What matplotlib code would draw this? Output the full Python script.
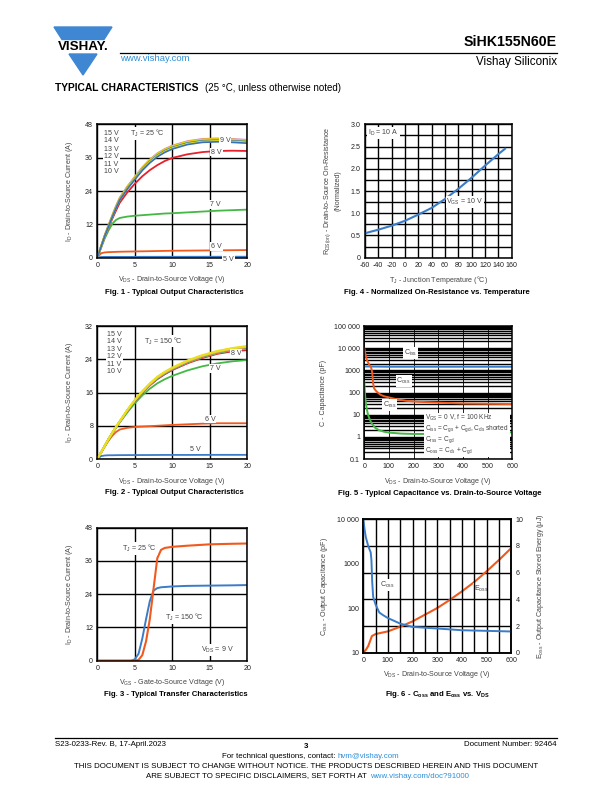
import numpy as np
import matplotlib
matplotlib.use("Agg")
import matplotlib.pyplot as plt
from matplotlib.patches import Polygon
from matplotlib.ticker import FixedLocator, NullFormatter

plt.rcParams["font.family"] = ["Liberation Sans", "DejaVu Sans"]
plt.rcParams["mathtext.fontset"] = "custom"
plt.rcParams["mathtext.rm"] = "Liberation Sans"
plt.rcParams["mathtext.it"] = "Liberation Sans"
plt.rcParams["mathtext.default"] = "regular"
plt.rcParams["axes.unicode_minus"] = False

# ---------- data ----------
# Fig. 1 - output characteristics, TJ = 25 C
vds_out = [0, 0.5, 1, 1.5, 2, 2.5, 3, 4, 5, 6, 7, 8, 9, 10, 12, 14, 16, 18, 20]
f1_15v = [0, 4.1, 8.1, 11.7, 15.2, 18.6, 21.6, 25.6, 29.1, 32.5, 35.3, 37.5, 39.1, 40.3, 41.9, 42.7, 42.9, 42.7, 42.4]
f1_14v = [0, 4.0, 8.0, 11.6, 15.1, 18.4, 21.4, 25.4, 28.9, 32.3, 35.1, 37.3, 38.9, 40.1, 41.7, 42.5, 42.7, 42.5, 42.2]
f1_13v = [0, 4.0, 8.0, 11.5, 15.0, 18.3, 21.3, 25.3, 28.8, 32.2, 35.0, 37.2, 38.8, 40.0, 41.6, 42.4, 42.6, 42.4, 42.1]
f1_12v = [0, 4.0, 7.9, 11.4, 14.9, 18.2, 21.2, 25.2, 28.6, 32.0, 34.8, 37.0, 38.6, 39.8, 41.4, 42.2, 42.4, 42.2, 41.9]
f1_11v = [0, 3.9, 7.9, 11.3, 14.8, 18.1, 21.0, 25.0, 28.4, 31.8, 34.6, 36.8, 38.4, 39.6, 41.2, 42.0, 42.2, 42.0, 41.7]
f1_10v = [0, 3.9, 7.8, 11.2, 14.7, 18.0, 20.9, 24.9, 28.3, 31.6, 34.4, 36.6, 38.2, 39.4, 41.0, 41.8, 42.0, 41.8, 41.5]
f1_9v = [0, 3.9, 7.8, 11.2, 14.6, 17.8, 20.8, 24.7, 28.1, 31.4, 34.1, 36.3, 37.9, 39.1, 40.7, 41.5, 41.7, 41.5, 41.2]
f1_8v = [0, 3.8, 7.5, 10.8, 14.0, 17.0, 19.8, 23.5, 26.6, 29.3, 31.5, 33.3, 34.8, 35.9, 37.2, 38.0, 38.4, 38.5, 38.4]
f1_7v = [0, 3.5, 7.0, 9.8, 12.2, 13.6, 14.3, 14.8, 15.1, 15.3, 15.5, 15.7, 15.9, 16.0, 16.3, 16.6, 16.9, 17.1, 17.3]
f1_6v = [0, 1.6, 1.9, 2.0, 2.05, 2.1, 2.15, 2.2, 2.25, 2.3, 2.35, 2.4, 2.45, 2.5, 2.55, 2.6, 2.65, 2.7, 2.75]
f1_5v = [0, 0.25, 0.3, 0.3, 0.3, 0.3, 0.3, 0.3, 0.3, 0.32, 0.32, 0.32, 0.33, 0.33, 0.33, 0.34, 0.34, 0.35, 0.35]

# Fig. 2 - output characteristics, TJ = 150 C
f2_15v = [0, 1.6, 3.2, 4.8, 6.3, 7.8, 9.1, 11.8, 14.2, 16.3, 18.2, 19.8, 21.0, 22.0, 23.7, 25.0, 26.0, 26.7, 27.2]
f2_14v = [0, 1.6, 3.2, 4.8, 6.3, 7.8, 9.1, 11.8, 14.2, 16.3, 18.1, 19.7, 20.9, 21.9, 23.6, 24.9, 25.9, 26.6, 27.1]
f2_13v = [0, 1.6, 3.2, 4.8, 6.3, 7.8, 9.1, 11.7, 14.1, 16.2, 18.0, 19.6, 20.8, 21.8, 23.5, 24.8, 25.8, 26.5, 27.0]
f2_12v = [0, 1.6, 3.2, 4.8, 6.3, 7.7, 9.0, 11.7, 14.1, 16.2, 18.0, 19.5, 20.7, 21.7, 23.4, 24.7, 25.7, 26.4, 26.9]
f2_11v = [0, 1.6, 3.2, 4.8, 6.3, 7.7, 9.0, 11.7, 14.0, 16.1, 17.9, 19.4, 20.6, 21.6, 23.3, 24.6, 25.6, 26.3, 26.8]
f2_10v = [0, 1.6, 3.2, 4.8, 6.3, 7.7, 9.0, 11.6, 14.0, 16.0, 17.8, 19.4, 20.6, 21.6, 23.2, 24.5, 25.5, 26.2, 26.6]
f2_9v = [0, 1.6, 3.2, 4.8, 6.3, 7.7, 9.0, 11.6, 14.0, 16.0, 17.8, 19.3, 20.5, 21.5, 23.2, 24.5, 25.5, 26.1, 26.5]
f2_8v = [0, 1.6, 3.2, 4.8, 6.3, 7.7, 9.0, 11.6, 13.9, 15.9, 17.7, 19.2, 20.4, 21.4, 23.0, 24.3, 25.3, 25.9, 26.2]
f2_7v = [0, 1.55, 3.1, 4.6, 6.1, 7.5, 8.8, 11.2, 13.4, 15.3, 16.9, 18.2, 19.2, 20.0, 21.3, 22.3, 23.0, 23.5, 23.8]
f2_6v = [0, 1.5, 3.0, 4.4, 5.6, 6.5, 7.1, 7.5, 7.7, 7.8, 7.9, 8.0, 8.1, 8.2, 8.35, 8.5, 8.6, 8.6, 8.6]
f2_5v = [0, 0.7, 0.85, 0.9, 0.9, 0.92, 0.93, 0.94, 0.95, 0.95, 0.96, 0.97, 0.98, 0.98, 0.98, 0.99, 1.0, 1.0, 1.0]

# Fig. 3 - transfer characteristics, VDS = 9 V
vgs = [0, 1, 2, 3, 4, 4.5, 5, 5.5, 6, 6.5, 7, 7.5, 8, 8.5, 9, 10, 12, 15, 18, 20]
id_25c = [0, 0, 0, 0, 0, 0, 0, 0.3, 2.0, 7.0, 15.0, 26.0, 37.0, 40.0, 40.7, 41.1, 41.5, 42.0, 42.2, 42.3]
id_150c = [0, 0, 0, 0, 0, 0, 0.5, 2.5, 8.0, 15.0, 21.5, 25.3, 26.2, 26.5, 26.6, 26.8, 27.0, 27.1, 27.2, 27.3]

# Fig. 4 - normalized RDS(on) vs. TJ
tj = [-60, -40, -20, 0, 20, 40, 60, 80, 100, 120, 140, 150]
rds_norm = [0.55, 0.63, 0.72, 0.83, 0.97, 1.12, 1.32, 1.55, 1.80, 2.07, 2.33, 2.45]

# Fig. 5 - capacitance vs. VDS
v_ciss = [0, 100, 300, 600]
ciss = [1500, 1450, 1450, 1450]
v_coss = [0, 5, 10, 20, 28, 32, 36, 40, 50, 65, 80, 100, 130, 170, 220, 300, 400, 500, 600]
coss = [10000, 5000, 3000, 1800, 1300, 800, 250, 150, 110, 80, 68, 60, 50, 42, 38, 35, 32, 31, 30]
v_crss = [0, 3, 6, 10, 15, 20, 30, 45, 60, 80, 100, 150, 200, 300, 400, 500, 600]
crss = [300, 80, 35, 18, 10, 7, 4, 2.5, 2.0, 1.7, 1.55, 1.4, 1.35, 1.35, 1.4, 1.5, 1.6]

# Fig. 6 - Coss and Eoss vs. VDS
v_coss6 = [0, 5, 10, 20, 30, 33, 36, 40, 50, 65, 80, 100, 150, 200, 300, 400, 500, 600]
coss6 = [10000, 6000, 4000, 2500, 1800, 1200, 400, 180, 120, 80, 70, 60, 45, 38, 35, 32, 31, 30]
v_eoss = [0, 10, 20, 30, 35, 50, 100, 150, 200, 250, 300, 350, 400, 450, 500, 550, 600]
eoss = [0, 0.2, 0.5, 1.0, 1.25, 1.4, 1.6, 1.95, 2.35, 2.85, 3.35, 3.95, 4.6, 5.3, 6.1, 6.95, 7.85]

W, H = 612, 792
BLUE = "#3a7cc8"
ORANGE = "#f05a1e"
GREEN = "#44b844"
RED = "#e8202a"
GRAY = "#444444"
LINK = "#2f8fd8"
TICK_FS = 5.1
LAB_FS = 5.1
CAP_FS = 5.6
FOOT_FS = 5.7
BOX = dict(facecolor="white", edgecolor="none", pad=0.6)


def px_axes(fig, x0, y0, x1, y1):
    """按像素位置建坐标轴 (左, 上, 右, 下)"""
    return fig.add_axes([x0 / W, 1 - y1 / H, (x1 - x0) / W, (y1 - y0) / H])


def style_axes(ax):
    for s in ax.spines.values():
        s.set_linewidth(1.1)
        s.set_color("black")
    ax.tick_params(length=0, labelsize=TICK_FS, pad=3, colors="#222222")
    ax.set_axisbelow(True)


def linear_grid(ax, xt, yt):
    ax.set_xticks(xt)
    ax.set_yticks(yt)
    ax.grid(True, color="black", linewidth=1.0)


def ftext(fig, x, y, s, **kw):
    fig.text(x / W, 1 - y / H, s, **kw)


def fline(fig, x0, x1, y):
    fig.add_artist(plt.Line2D([x0 / W, x1 / W], [1 - y / H, 1 - y / H], color="black", linewidth=0.9,
                              transform=fig.transFigure))


fig = plt.figure(figsize=(W / 100, H / 100), dpi=100)

# ---------- header ----------
logo_top = Polygon([[54 / W, 1 - 27 / H], [112 / W, 1 - 27 / H], [104 / W, 1 - 39.5 / H], [62 / W, 1 - 39.5 / H]],
                   closed=True, transform=fig.transFigure, color="#3f87d2")
logo_bot = Polygon([[69 / W, 1 - 54 / H], [97 / W, 1 - 54 / H], [83 / W, 1 - 75 / H]],
                   closed=True, transform=fig.transFigure, color="#3f87d2")
fig.patches.extend([logo_top, logo_bot])
ftext(fig, 83, 47.2, "VISHAY.", fontsize=9.6, fontweight="bold", ha="center", va="center")
fline(fig, 120, 557, 52.5)
ftext(fig, 120, 58.5, "www.vishay.com", fontsize=6.8, color=LINK, va="center")
ftext(fig, 557, 42, "SiHK155N60E", fontsize=10.2, fontweight="bold", ha="right", va="center")
ftext(fig, 557, 62, "Vishay Siliconix", fontsize=8.4, ha="right", va="center")
ftext(fig, 55, 88, "TYPICAL CHARACTERISTICS", fontsize=7.4, fontweight="bold", va="center")
ftext(fig, 205, 88, "(25 °C, unless otherwise noted)", fontsize=7.0, va="center")

# ---------- Fig. 1 ----------
ax1 = px_axes(fig, 97.3, 124.3, 247.3, 257.7)
style_axes(ax1)
linear_grid(ax1, [0, 5, 10, 15, 20], [0, 12, 24, 36, 48])
ax1.set_xlim(0, 20)
ax1.set_ylim(0, 48)
ax1.plot(vds_out, f1_5v, color=BLUE, lw=1.3)
ax1.plot(vds_out, f1_6v, color=ORANGE, lw=1.3)
ax1.plot(vds_out, f1_7v, color=GREEN, lw=1.3)
ax1.plot(vds_out, f1_8v, color=RED, lw=1.3)
ax1.plot(vds_out, f1_15v, color="#d88ac8", lw=1.4)
ax1.plot(vds_out, f1_14v, color="#f0b400", lw=1.4)
ax1.plot(vds_out, f1_13v, color="#e8dc10", lw=1.4)
ax1.plot(vds_out, f1_12v, color="#a8d038", lw=1.3)
ax1.plot(vds_out, f1_11v, color="#3070c0", lw=1.3)
ax1.plot(vds_out, f1_10v, color="#e8e020", lw=1.3)
ax1.plot(vds_out, f1_9v, color="#3a70b8", lw=1.2)
for lab, yv in zip(["15 V", "14 V", "13 V", "12 V", "11 V", "10 V"], [44.8, 42.0, 39.1, 36.3, 33.6, 31.0]):
    ax1.text(0.9, yv, lab, fontsize=LAB_FS, color=GRAY, va="center", bbox=BOX)
ax1.text(4.3, 44.6, "T$_J$ = 25 °C", fontsize=LAB_FS, color=GRAY, va="center", bbox=BOX)
ax1.text(16.3, 42.2, "9 V", fontsize=LAB_FS, color=GRAY, va="center", bbox=BOX)
ax1.text(15.2, 38.0, "8 V", fontsize=LAB_FS, color=GRAY, va="center", bbox=BOX)
ax1.text(15.0, 19.2, "7 V", fontsize=LAB_FS, color=GRAY, va="center", bbox=BOX)
ax1.text(15.2, 4.0, "6 V", fontsize=LAB_FS, color=GRAY, va="center", bbox=BOX)
ax1.text(16.8, -0.6, "5 V", fontsize=LAB_FS, color=GRAY, va="center", bbox=BOX)
ax1.set_xlabel("V$_{DS}$ - Drain-to-Source Voltage (V)", fontsize=LAB_FS, color=GRAY, labelpad=4)
ax1.set_ylabel("I$_D$ - Drain-to-Source Current (A)", fontsize=LAB_FS, color=GRAY, labelpad=7)
ftext(fig, 174, 292, "Fig. 1 - Typical Output Characteristics", fontsize=CAP_FS, fontweight="bold",
      ha="center", va="center")

# ---------- Fig. 4 ----------
ax4 = px_axes(fig, 365, 124.3, 511.7, 257.7)
style_axes(ax4)
ax4.set_xlim(-60, 160)
ax4.set_ylim(0, 3.0)
ax4.set_xticks(list(range(-60, 161, 20)))
ax4.set_yticks([0, 0.5, 1.0, 1.5, 2.0, 2.5, 3.0])
ax4.set_yticklabels(["0", "0.5", "1.0", "1.5", "2.0", "2.5", "3.0"])
ax4.yaxis.set_minor_locator(FixedLocator([0.25, 0.75, 1.25, 1.75, 2.25, 2.75]))
ax4.grid(True, which="both", color="black", linewidth=1.0)
ax4.tick_params(which="minor", length=0)
ax4.plot(tj, rds_norm, color=BLUE, lw=1.5)
ax4.text(-55, 2.8, "I$_D$ = 10 A", fontsize=LAB_FS, color=GRAY, va="center", bbox=BOX)
ax4.text(62, 1.245, "V$_{GS}$ = 10 V", fontsize=LAB_FS, color=GRAY, va="center", bbox=BOX)
ax4.set_xlabel("T$_J$ - Junction Temperature (°C)", fontsize=LAB_FS, color=GRAY, labelpad=4)
ax4.set_ylabel("R$_{DS(on)}$ - Drain-to-Source On-Resistance\n(Normalized)", fontsize=LAB_FS,
               color=GRAY, labelpad=7, linespacing=1.3)
ftext(fig, 437, 292, "Fig. 4 - Normalized On-Resistance vs. Temperature", fontsize=CAP_FS,
      fontweight="bold", ha="center", va="center")

# ---------- Fig. 2 ----------
ax2 = px_axes(fig, 97.3, 326, 247.3, 459)
style_axes(ax2)
linear_grid(ax2, [0, 5, 10, 15, 20], [0, 8, 16, 24, 32])
ax2.set_xlim(0, 20)
ax2.set_ylim(0, 32)
ax2.plot(vds_out, f2_5v, color=BLUE, lw=1.3)
ax2.plot(vds_out, f2_6v, color=ORANGE, lw=1.3)
ax2.plot(vds_out, f2_7v, color=GREEN, lw=1.3)
ax2.plot(vds_out, f2_8v, color=RED, lw=1.3)
ax2.plot(vds_out, f2_9v, color="#3a70b8", lw=1.2)
ax2.plot(vds_out, f2_10v, color="#a8d038", lw=1.3)
ax2.plot(vds_out, f2_11v, color="#3070c0", lw=1.2)
ax2.plot(vds_out, f2_12v, color="#f0b400", lw=1.3)
ax2.plot(vds_out, f2_13v, color="#d88ac8", lw=1.3)
ax2.plot(vds_out, f2_14v, color="#e8dc10", lw=1.4)
ax2.plot(vds_out, f2_15v, color="#e8e020", lw=1.4)
for lab, yv in zip(["15 V", "14 V", "13 V", "12 V", "11 V", "10 V"], [29.9, 28.3, 26.3, 24.6, 22.7, 21.0]):
    ax2.text(1.3, yv, lab, fontsize=LAB_FS, color=GRAY, va="center", bbox=BOX)
ax2.text(6.2, 28.4, "T$_J$ = 150 °C", fontsize=LAB_FS, color=GRAY, va="center", bbox=BOX)
ax2.text(17.8, 25.3, "8 V", fontsize=LAB_FS, color=GRAY, va="center", bbox=BOX)
ax2.text(15.0, 21.8, "7 V", fontsize=LAB_FS, color=GRAY, va="center", bbox=BOX)
ax2.text(14.3, 9.6, "6 V", fontsize=LAB_FS, color=GRAY, va="center", bbox=BOX)
ax2.text(12.3, 2.4, "5 V", fontsize=LAB_FS, color=GRAY, va="center", bbox=BOX)
ax2.set_xlabel("V$_{DS}$ - Drain-to-Source Voltage (V)", fontsize=LAB_FS, color=GRAY, labelpad=4)
ax2.set_ylabel("I$_D$ - Drain-to-Source Current (A)", fontsize=LAB_FS, color=GRAY, labelpad=7)
ftext(fig, 174, 492, "Fig. 2 - Typical Output Characteristics", fontsize=CAP_FS, fontweight="bold",
      ha="center", va="center")

# ---------- Fig. 5 ----------
ax5 = px_axes(fig, 364.3, 326, 512.3, 459)
style_axes(ax5)
ax5.set_yscale("log")
ax5.set_xlim(0, 600)
ax5.set_ylim(0.1, 100000)
ax5.set_xticks([0, 100, 200, 300, 400, 500, 600])
ax5.set_yticks([0.1, 1, 10, 100, 1000, 10000, 100000])
ax5.set_yticklabels(["0.1", "1", "10", "100", "1000", "10 000", "100 000"])
minors = [m * 10.0 ** k for k in range(-1, 5) for m in range(2, 10)]
ax5.yaxis.set_minor_locator(FixedLocator(minors))
ax5.yaxis.set_minor_formatter(NullFormatter())
ax5.tick_params(which="minor", length=0)
ax5.grid(True, axis="y", which="both", color="black", linewidth=1.0)
ax5.grid(True, axis="x", which="major", color="black", linewidth=0.6)
ax5.plot(v_ciss, ciss, color=BLUE, lw=1.4)
ax5.plot(v_coss, coss, color=ORANGE, lw=1.4)
ax5.plot(v_crss, crss, color=GREEN, lw=1.4)
ax5.text(160, 6300, "C$_{iss}$", fontsize=LAB_FS, color=GRAY, va="center", bbox=BOX)
ax5.text(130, 340, "C$_{oss}$", fontsize=LAB_FS, color=GRAY, va="center", bbox=BOX)
ax5.text(75, 28, "C$_{rss}$", fontsize=LAB_FS, color=GRAY, va="center", bbox=BOX)
ax5.text(248, 0.14, "V$_{GS}$ = 0 V, f = 100 KHz\nC$_{iss}$ = C$_{gs}$ + C$_{gd}$, C$_{ds}$ shorted\n"
         "C$_{rss}$ = C$_{gd}$\nC$_{oss}$ = C$_{ds}$ + C$_{gd}$",
         fontsize=4.7, color=GRAY, va="bottom", linespacing=1.0,
         bbox=dict(facecolor="white", edgecolor="none", pad=0.8))
ax5.set_xlabel("V$_{DS}$ - Drain-to-Source Voltage (V)", fontsize=LAB_FS, color=GRAY, labelpad=4)
ax5.set_ylabel("C - Capacitance (pF)", fontsize=LAB_FS, color=GRAY, labelpad=5)
ftext(fig, 440, 493, "Fig. 5 - Typical Capacitance vs. Drain-to-Source Voltage", fontsize=CAP_FS,
      fontweight="bold", ha="center", va="center")

# ---------- Fig. 3 ----------
ax3 = px_axes(fig, 97.3, 527.7, 247.3, 660.7)
style_axes(ax3)
linear_grid(ax3, [0, 5, 10, 15, 20], [0, 12, 24, 36, 48])
ax3.set_xlim(0, 20)
ax3.set_ylim(0, 48)
ax3.plot(vgs, id_150c, color=BLUE, lw=1.4)
ax3.plot(vgs, id_25c, color=ORANGE, lw=1.5)
ax3.text(3.3, 40.6, "T$_J$ = 25 °C", fontsize=LAB_FS, color=GRAY, va="center", bbox=BOX)
ax3.text(9.0, 15.6, "T$_J$ = 150 °C", fontsize=LAB_FS, color=GRAY, va="center", bbox=BOX)
ax3.text(13.8, 3.8, "V$_{DS}$ = 9 V", fontsize=LAB_FS, color=GRAY, va="center", bbox=BOX)
ax3.set_xlabel("V$_{GS}$ - Gate-to-Source Voltage (V)", fontsize=LAB_FS, color=GRAY, labelpad=4)
ax3.set_ylabel("I$_D$ - Drain-to-Source Current (A)", fontsize=LAB_FS, color=GRAY, labelpad=7)
ftext(fig, 176, 695, "Fig. 3 - Typical Transfer Characteristics", fontsize=CAP_FS, fontweight="bold",
      ha="center", va="center")

# ---------- Fig. 6 ----------
ax6 = px_axes(fig, 363.3, 519.3, 511.3, 652.7)
style_axes(ax6)
ax6e = ax6.twinx()
style_axes(ax6e)
ax6.set_yscale("log")
ax6.set_xlim(0, 600)
ax6.set_ylim(10, 10000)
ax6.set_xticks([0, 100, 200, 300, 400, 500, 600])
ax6.xaxis.set_minor_locator(FixedLocator([50, 150, 250, 350, 450, 550]))
ax6.tick_params(which="minor", length=0)
ax6.set_yticks([10, 100, 1000, 10000])
ax6.set_yticklabels(["10", "100", "1000", "10 000"])
ax6.yaxis.set_minor_locator(FixedLocator([]))
ax6e.set_ylim(0, 10)
ax6e.set_yticks([0, 2, 4, 6, 8, 10])
ax6.grid(True, axis="x", which="both", color="black", linewidth=1.0)
ax6e.grid(True, axis="y", color="black", linewidth=1.0)
ax6e.set_zorder(0)
ax6.set_zorder(1)
ax6.patch.set_visible(False)
ax6.plot(v_coss6, coss6, color=BLUE, lw=1.4)
ax6e.plot(v_eoss, eoss, color=ORANGE, lw=1.5, zorder=3)
ax6.text(68, 330, "C$_{oss}$", fontsize=LAB_FS, color=GRAY, va="center", bbox=BOX)
ax6e.text(450, 4.8, "E$_{oss}$", fontsize=LAB_FS, color=GRAY, va="center", bbox=BOX, zorder=4)
ax6.set_xlabel("V$_{DS}$ - Drain-to-Source Voltage (V)", fontsize=LAB_FS, color=GRAY, labelpad=4)
ax6.set_ylabel("C$_{oss}$ - Output Capacitance (pF)", fontsize=LAB_FS, color=GRAY, labelpad=5)
ax6e.set_ylabel("E$_{oss}$ - Output Capacitance Stored Energy (μJ)", fontsize=LAB_FS, color=GRAY,
                labelpad=8)
ftext(fig, 437, 695, "Fig. 6 - C$_{oss}$ and E$_{oss}$ vs. V$_{DS}$", fontsize=CAP_FS,
      fontweight="bold", ha="center", va="center")

# ---------- footer ----------
fline(fig, 55, 557, 738)
ftext(fig, 55, 745, "S23-0233-Rev. B, 17-April.2023", fontsize=FOOT_FS, va="center")
ftext(fig, 306, 746, "3", fontsize=FOOT_FS, fontweight="bold", ha="center", va="center")
ftext(fig, 557, 745, "Document Number: 92464", fontsize=FOOT_FS, ha="right", va="center")
ftext(fig, 338, 756, "For technical questions, contact: ", fontsize=FOOT_FS, ha="right", va="center")
ftext(fig, 338, 756, "hvm@vishay.com", fontsize=FOOT_FS, ha="left", va="center", color=LINK)
ftext(fig, 306, 767, "THIS DOCUMENT IS SUBJECT TO CHANGE WITHOUT NOTICE. THE PRODUCTS DESCRIBED HEREIN AND THIS DOCUMENT",
      fontsize=FOOT_FS, ha="center", va="center")
ftext(fig, 369, 776, "ARE SUBJECT TO SPECIFIC DISCLAIMERS, SET FORTH AT ", fontsize=FOOT_FS,
      ha="right", va="center")
ftext(fig, 370, 776, "www.vishay.com/doc?91000", fontsize=FOOT_FS, ha="left", va="center", color=LINK)

fig.savefig("out.png", dpi=100)
